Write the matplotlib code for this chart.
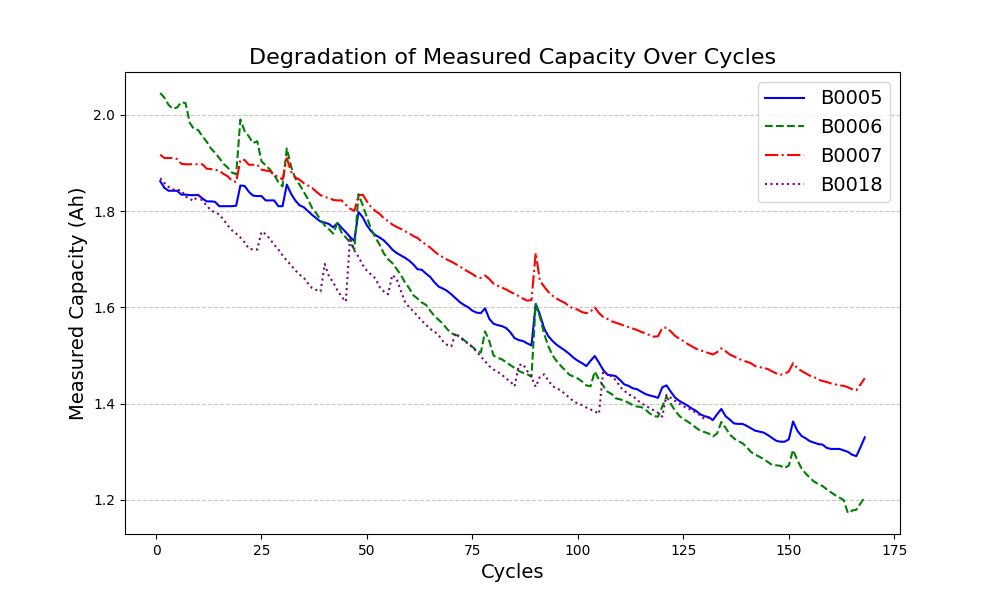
import matplotlib
matplotlib.use("Agg")
import matplotlib.pyplot as plt
import numpy as np

b0005 = [1.862, 1.848, 1.842, 1.842, 1.842, 1.834, 1.834, 1.833, 1.833, 1.833,
         1.826, 1.820, 1.820, 1.819, 1.810, 1.810, 1.810, 1.810, 1.811, 1.853,
         1.852, 1.840, 1.832, 1.831, 1.831, 1.822, 1.822, 1.822, 1.810, 1.810,
         1.855, 1.836, 1.822, 1.812, 1.808, 1.800, 1.792, 1.785, 1.778, 1.776,
         1.773, 1.766, 1.775, 1.765, 1.756, 1.746, 1.738, 1.798, 1.787, 1.770,
         1.758, 1.750, 1.745, 1.739, 1.730, 1.720, 1.713, 1.708, 1.703, 1.697,
         1.689, 1.679, 1.678, 1.670, 1.663, 1.652, 1.643, 1.639, 1.634, 1.627,
         1.619, 1.611, 1.605, 1.600, 1.593, 1.589, 1.588, 1.598, 1.576, 1.566,
         1.563, 1.561, 1.557, 1.548, 1.536, 1.532, 1.530, 1.525, 1.521, 1.607,
         1.585, 1.556, 1.540, 1.530, 1.522, 1.516, 1.510, 1.503, 1.495, 1.489,
         1.484, 1.478, 1.489, 1.499, 1.485, 1.470, 1.460, 1.459, 1.457, 1.449,
         1.440, 1.437, 1.432, 1.430, 1.425, 1.420, 1.417, 1.415, 1.412, 1.434,
         1.438, 1.425, 1.413, 1.406, 1.401, 1.396, 1.390, 1.385, 1.378, 1.374,
         1.372, 1.366, 1.378, 1.389, 1.374, 1.367, 1.359, 1.358, 1.358, 1.354,
         1.349, 1.344, 1.342, 1.340, 1.335, 1.329, 1.323, 1.321, 1.321, 1.326,
         1.363, 1.344, 1.333, 1.328, 1.322, 1.319, 1.316, 1.315, 1.308, 1.306,
         1.306, 1.306, 1.303, 1.300, 1.294, 1.291, 1.310, 1.330]

b0006 = [2.045, 2.035, 2.020, 2.012, 2.015, 2.026, 2.024, 1.983, 1.970, 1.968,
         1.955, 1.944, 1.930, 1.921, 1.910, 1.898, 1.890, 1.880, 1.876, 1.990,
         1.966, 1.955, 1.941, 1.945, 1.903, 1.895, 1.886, 1.875, 1.860, 1.851,
         1.930, 1.893, 1.868, 1.855, 1.840, 1.825, 1.806, 1.795, 1.782, 1.770,
         1.762, 1.753, 1.775, 1.755, 1.745, 1.735, 1.720, 1.835, 1.812, 1.787,
         1.762, 1.745, 1.730, 1.712, 1.700, 1.692, 1.680, 1.668, 1.652, 1.640,
         1.625, 1.618, 1.610, 1.605, 1.593, 1.582, 1.574, 1.566, 1.555, 1.546,
         1.543, 1.540, 1.532, 1.525, 1.518, 1.510, 1.506, 1.550, 1.530, 1.500,
         1.495, 1.492, 1.486, 1.480, 1.474, 1.468, 1.464, 1.461, 1.456, 1.607,
         1.580, 1.545, 1.519, 1.500, 1.488, 1.478, 1.469, 1.460, 1.456, 1.452,
         1.446, 1.438, 1.436, 1.467, 1.450, 1.437, 1.425, 1.420, 1.411, 1.409,
         1.406, 1.402, 1.397, 1.394, 1.393, 1.388, 1.380, 1.374, 1.373, 1.394,
         1.415, 1.400, 1.386, 1.375, 1.368, 1.363, 1.357, 1.350, 1.344, 1.341,
         1.338, 1.332, 1.338, 1.362, 1.350, 1.336, 1.328, 1.322, 1.318, 1.310,
         1.300, 1.294, 1.290, 1.285, 1.279, 1.273, 1.272, 1.271, 1.266, 1.272,
         1.304, 1.283, 1.266, 1.255, 1.246, 1.238, 1.233, 1.229, 1.222, 1.216,
         1.210, 1.205, 1.200, 1.173, 1.178, 1.180, 1.193, 1.206]

b0007 = [1.917, 1.910, 1.910, 1.910, 1.908, 1.898, 1.897, 1.897, 1.897, 1.897,
         1.897, 1.888, 1.887, 1.886, 1.883, 1.877, 1.872, 1.863, 1.860, 1.906,
         1.906, 1.896, 1.896, 1.896, 1.886, 1.884, 1.883, 1.874, 1.872, 1.865,
         1.910, 1.882, 1.870, 1.865, 1.858, 1.853, 1.848, 1.840, 1.833, 1.829,
         1.827, 1.823, 1.822, 1.822, 1.813, 1.805, 1.800, 1.832, 1.834, 1.820,
         1.808, 1.800, 1.794, 1.785, 1.779, 1.772, 1.767, 1.763, 1.758, 1.754,
         1.748, 1.744, 1.736, 1.730, 1.724, 1.716, 1.709, 1.704, 1.699, 1.695,
         1.690, 1.685, 1.679, 1.674, 1.669, 1.663, 1.661, 1.666, 1.659, 1.649,
         1.645, 1.641, 1.637, 1.632, 1.628, 1.623, 1.618, 1.614, 1.615, 1.713,
         1.655, 1.643, 1.632, 1.624, 1.618, 1.613, 1.609, 1.601, 1.598, 1.595,
         1.590, 1.588, 1.591, 1.600, 1.588, 1.580, 1.576, 1.571, 1.568, 1.565,
         1.562, 1.559, 1.556, 1.553, 1.549, 1.546, 1.542, 1.539, 1.540, 1.557,
         1.558, 1.550, 1.541, 1.535, 1.530, 1.524, 1.519, 1.514, 1.511, 1.508,
         1.505, 1.502, 1.507, 1.515, 1.509, 1.502, 1.498, 1.494, 1.490, 1.487,
         1.484, 1.478, 1.476, 1.474, 1.472, 1.467, 1.463, 1.460, 1.462, 1.467,
         1.484, 1.474, 1.468, 1.463, 1.458, 1.455, 1.450, 1.447, 1.445, 1.442,
         1.440, 1.438, 1.437, 1.434, 1.430, 1.428, 1.440, 1.453]

b0018 = [1.868, 1.858, 1.850, 1.845, 1.844, 1.843, 1.830, 1.825, 1.821, 1.834,
         1.820, 1.812, 1.801, 1.797, 1.793, 1.782, 1.770, 1.760, 1.753, 1.745,
         1.735, 1.722, 1.720, 1.720, 1.757, 1.752, 1.742, 1.730, 1.720, 1.708,
         1.697, 1.688, 1.677, 1.668, 1.662, 1.650, 1.640, 1.636, 1.633, 1.690,
         1.664, 1.652, 1.635, 1.622, 1.612, 1.745, 1.718, 1.705, 1.688, 1.676,
         1.668, 1.660, 1.642, 1.633, 1.627, 1.667, 1.660, 1.635, 1.612, 1.600,
         1.592, 1.582, 1.572, 1.564, 1.555, 1.550, 1.542, 1.530, 1.522, 1.519,
         1.546, 1.538, 1.530, 1.525, 1.517, 1.508, 1.498, 1.488, 1.478, 1.471,
         1.466, 1.460, 1.452, 1.446, 1.436, 1.480, 1.482, 1.468, 1.455, 1.435,
         1.456, 1.461, 1.448, 1.436, 1.432, 1.427, 1.420, 1.412, 1.405, 1.400,
         1.397, 1.392, 1.388, 1.384, 1.379, 1.468, 1.462, 1.456, 1.449, 1.435,
         1.427, 1.419, 1.416, 1.408, 1.401, 1.396, 1.391, 1.386, 1.381, 1.373,
         1.418, 1.412, 1.406, 1.400, 1.395, 1.390, 1.387, 1.381, 1.376, 1.368,
         1.371, 1.365]

series = [
    ("B0005", b0005, "blue", "-"),
    ("B0006", b0006, "green", "--"),
    ("B0007", b0007, "red", "-."),
    ("B0018", b0018, "purple", ":"),
]

fig, ax = plt.subplots(figsize=(10, 6), dpi=100)
for name, vals, color, ls in series:
    cycles = np.arange(1, len(vals) + 1)
    ax.plot(cycles, vals, color=color, linestyle=ls, label=name, linewidth=1.5)

ax.set_title("Degradation of Measured Capacity Over Cycles", fontsize=16)
ax.set_xlabel("Cycles", fontsize=14)
ax.set_ylabel("Measured Capacity (Ah)", fontsize=14)
ax.legend(fontsize=14, loc="upper right")
ax.grid(axis="y", linestyle="--", alpha=0.7)

fig.savefig("out.png")
